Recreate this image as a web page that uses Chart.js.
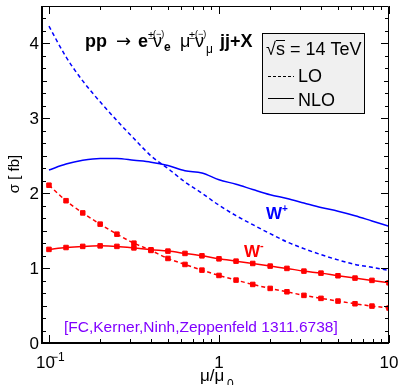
<!DOCTYPE html>
<html>
<head>
<meta charset="utf-8">
<script src="https://cdn.jsdelivr.net/npm/chart.js@4.4.0/dist/chart.umd.min.js"></script>
<style>
    html, body { margin: 0; padding: 0; background: #fff; }
</style>
</head>
<body>
<canvas id="xsecChart" width="399" height="385"></canvas>
<script>
// scale variation mu/mu0
const muRatio = [0.1, 0.126, 0.158, 0.2, 0.251, 0.316, 0.398, 0.501, 0.631, 0.794,
    1, 1.26, 1.58, 2, 2.51, 3.16, 3.98, 5.01, 6.31, 7.94, 10];

// cross sections in fb
const wPlusLO = [4.23, 3.82, 3.50, 3.22, 2.97, 2.73, 2.50, 2.33, 2.15, 2.00,
    1.84, 1.70, 1.58, 1.46, 1.35, 1.26, 1.18, 1.11, 1.05, 1.01, 0.97];
const wPlusNLO = [2.31, 2.39, 2.44, 2.465, 2.465, 2.44, 2.415, 2.37, 2.30, 2.27,
    2.18, 2.12, 2.05, 1.98, 1.93, 1.87, 1.81, 1.76, 1.70, 1.63, 1.56];
const wMinusLO = [2.107, 1.90, 1.737, 1.587, 1.453, 1.333, 1.236, 1.129, 1.049, 0.973,
    0.902, 0.84, 0.782, 0.729, 0.684, 0.636, 0.596, 0.56, 0.524, 0.493, 0.467];
const wMinusNLO = [1.25, 1.275, 1.29, 1.297, 1.29, 1.27, 1.245, 1.227, 1.196, 1.164,
    1.124, 1.093, 1.062, 1.027, 0.996, 0.96, 0.933, 0.898, 0.867, 0.836, 0.804];

const xMajor = [0.1, 1, 10];
const xMinor = [0.2, 0.3, 0.4, 0.5, 0.6, 0.7, 0.8, 0.9, 2, 3, 4, 5, 6, 7, 8, 9];
const yMajor = [0, 1, 2, 3, 4];

const BLUE = '#0000ff';
const RED = '#ff0000';
const SANS = '"Liberation Sans", Arial, sans-serif';

function points(ys) {
    return muRatio.map((m, i) => ({ x: m, y: ys[i] }));
}

function line(label, ys, color, dashed, markers) {
    return {
        label: label,
        data: points(ys),
        borderColor: color,
        backgroundColor: color,
        borderWidth: 1.5,
        borderDash: dashed ? [4, 3] : [],
        cubicInterpolationMode: 'monotone',
        pointRadius: markers ? 3.2 : 0,
        pointStyle: 'rect',
        pointBorderWidth: 1,
        fill: false
    };
}

function txt(ctx, s, x, y, font, color, align) {
    ctx.font = font;
    ctx.fillStyle = color || '#000';
    ctx.textAlign = align || 'left';
    ctx.fillText(s, x, y);
}

const decor = {
    id: 'decor',
    afterDatasetsDraw(chart) {
        const { ctx, chartArea: a, scales: { x, y } } = chart;
        ctx.save();
        ctx.textBaseline = 'alphabetic';

        // frame
        ctx.strokeStyle = '#000';
        ctx.lineWidth = 1;
        ctx.beginPath();
        ctx.moveTo(a.left, a.top + 0.5);
        ctx.lineTo(a.right - 0.5, a.top + 0.5);
        ctx.lineTo(a.right - 0.5, a.bottom);
        ctx.stroke();
        ctx.lineWidth = 2;
        ctx.beginPath();
        ctx.moveTo(a.left, a.top);
        ctx.lineTo(a.left, a.bottom);
        ctx.lineTo(a.right, a.bottom);
        ctx.stroke();

        // ticks, pointing inwards on all sides
        ctx.lineWidth = 1;
        ctx.beginPath();
        const xt = (v, len) => {
            const px = Math.round(x.getPixelForValue(v)) + 0.5;
            ctx.moveTo(px, a.bottom); ctx.lineTo(px, a.bottom - len);
            ctx.moveTo(px, a.top); ctx.lineTo(px, a.top + len);
        };
        const yt = (v, len) => {
            const py = Math.round(y.getPixelForValue(v)) + 0.5;
            ctx.moveTo(a.left, py); ctx.lineTo(a.left + len, py);
            ctx.moveTo(a.right, py); ctx.lineTo(a.right - len, py);
        };
        xMajor.forEach(v => xt(v, 8));
        xMinor.forEach(v => xt(v, 4));
        yMajor.forEach(v => yt(v, 8));
        for (let k = 1; k < 27; k++) {
            if (k % 6 !== 0) yt(k / 6, k % 3 === 0 ? 5 : 4);
        }
        ctx.stroke();

        // tick labels
        const tickFont = '17px ' + SANS;
        ctx.textBaseline = 'middle';
        yMajor.forEach(v => {
            txt(ctx, String(v), a.left - 3, y.getPixelForValue(v) + 1, tickFont, '#000', 'right');
        });
        ctx.textBaseline = 'alphabetic';
        const x01 = x.getPixelForValue(0.1);
        txt(ctx, '10', x01 - 13, 368, tickFont, '#000', 'left');
        txt(ctx, '−1', x01 + 2, 361, '12px ' + SANS, '#000', 'left');
        txt(ctx, '1', x.getPixelForValue(1), 368, tickFont, '#000', 'center');
        txt(ctx, '10', x.getPixelForValue(10), 368, tickFont, '#000', 'center');

        // axis titles
        txt(ctx, 'μ/μ', 200, 381, '17px ' + SANS, '#000', 'left');
        txt(ctx, '0', 227, 388, '12px ' + SANS, '#000', 'left');
        ctx.save();
        ctx.translate(19, 174);
        ctx.rotate(-Math.PI / 2);
        txt(ctx, 'σ [ fb]', 0, 0, '15px ' + SANS, '#000', 'center');
        ctx.restore();

        // process title
        const B = 'bold 18px ' + SANS;
        const R = '18px ' + SANS;
        const S = '11px ' + SANS;
        const SB = 'bold 12px ' + SANS;
        txt(ctx, 'pp', 85, 47, B);
        txt(ctx, '→', 116, 47, '18px "DejaVu Sans"');
        txt(ctx, 'e', 138, 47, B);
        txt(ctx, '±', 148, 39, S);
        txt(ctx, 'ν', 153, 47, R);
        txt(ctx, '(−)', 153, 37, '9px ' + SANS);
        txt(ctx, 'e', 164, 51, SB);
        txt(ctx, 'μ', 180, 47, R);
        txt(ctx, '±', 189, 39, S);
        txt(ctx, 'ν', 195, 47, R);
        txt(ctx, '(−)', 195, 37, '9px ' + SANS);
        txt(ctx, 'μ', 206, 53, '12px ' + SANS);
        txt(ctx, 'jj+X', 220, 47, B);

        // legend box
        ctx.fillStyle = '#f0f0f0';
        ctx.fillRect(262.5, 33.5, 102, 80);
        ctx.strokeStyle = '#000';
        ctx.lineWidth = 1;
        ctx.setLineDash([]);
        ctx.strokeRect(262.5, 33.5, 102, 80);
        txt(ctx, '√s = 14 TeV', 266, 55, '18px ' + SANS);
        ctx.beginPath();
        ctx.moveTo(276, 40.5);
        ctx.lineTo(285, 40.5);
        ctx.stroke();
        ctx.setLineDash([3, 2]);
        ctx.beginPath();
        ctx.moveTo(268, 76.5);
        ctx.lineTo(294, 76.5);
        ctx.stroke();
        ctx.setLineDash([]);
        ctx.beginPath();
        ctx.moveTo(268, 98.5);
        ctx.lineTo(294, 98.5);
        ctx.stroke();
        txt(ctx, 'LO', 298, 82, '18px ' + SANS);
        txt(ctx, 'NLO', 298, 106, '18px ' + SANS);

        // process labels
        txt(ctx, 'W', 266, 219, 'bold 17px ' + SANS, BLUE);
        txt(ctx, '+', 282, 212, 'bold 10px ' + SANS, BLUE);
        txt(ctx, 'W', 244, 257, 'bold 17px ' + SANS, RED);
        txt(ctx, '-', 260, 249, 'bold 11px ' + SANS, RED);

        // reference
        txt(ctx, '[FC,Kerner,Ninh,Zeppenfeld 1311.6738]', 64, 332, '15.5px ' + SANS, '#8000ff');

        ctx.restore();
    }
};

const chart = new Chart(document.getElementById('xsecChart').getContext('2d'), {
    type: 'line',
    data: {
        datasets: [
            line('W+ LO', wPlusLO, BLUE, true, false),
            line('W+ NLO', wPlusNLO, BLUE, false, false),
            line('W- LO', wMinusLO, RED, true, true),
            line('W- NLO', wMinusNLO, RED, false, true)
        ]
    },
    options: {
        responsive: false,
        animation: false,
        devicePixelRatio: 1,
        layout: { padding: { left: 42, right: 10, top: 6, bottom: 42 } },
        plugins: {
            legend: { display: false },
            tooltip: { enabled: false }
        },
        scales: {
            x: {
                type: 'logarithmic',
                display: false,
                min: 0.091,
                max: 10
            },
            y: {
                type: 'linear',
                display: false,
                min: 0,
                max: 4.5
            }
        }
    },
    plugins: [decor]
});
</script>
</body>
</html>
